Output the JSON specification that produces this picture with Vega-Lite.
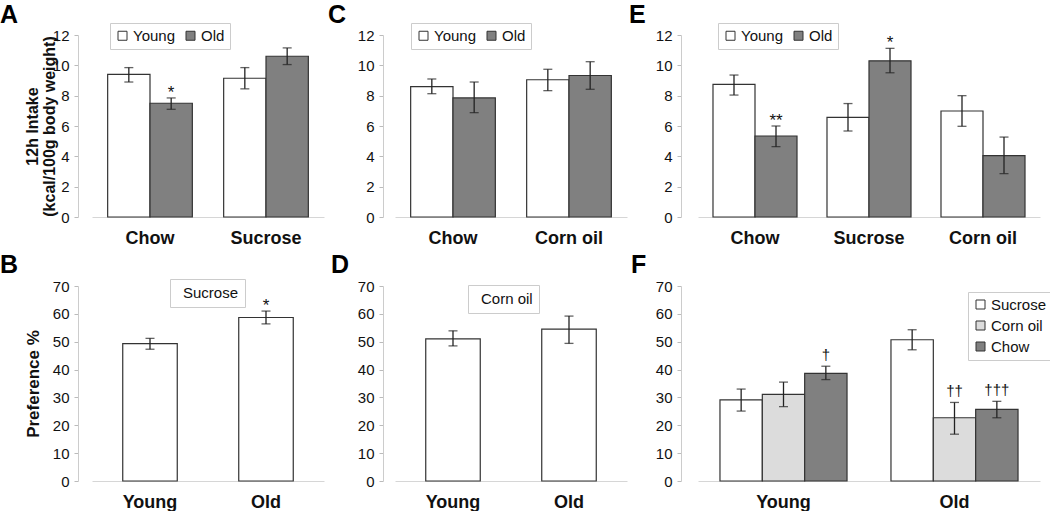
{
  "$schema": "https://vega.github.io/schema/vega-lite/v6.json",
  "background": "white",
  "padding": {"left": 0, "top": 2, "right": 0, "bottom": 0},
  "columns": 3,
  "spacing": {"row": 69, "column": 71},
  "bounds": "flush",
  "align": "each",
  "resolve": {
    "scale": {"x": "independent", "y": "independent", "color": "independent", "xOffset": "independent"},
    "axis": {"x": "independent", "y": "independent"},
    "legend": {"color": "independent"}
  },
  "config": {
    "font": "Liberation Sans, Arial, sans-serif",
    "view": {"stroke": null},
    "axis": {"grid": false},
    "axisX": {"domainColor": "#d6d6d6", "ticks": false, "labelFontSize": 18, "labelFontWeight": "bold", "labelColor": "#111", "labelPadding": 12, "labelAngle": 0},
    "axisY": {"domainColor": "#cccccc", "tickColor": "#bbbbbb", "tickSize": 4, "labelFontSize": 15, "labelColor": "#111", "labelPadding": 5, "labelOverlap": false, "titleFontSize": 16, "titleFontWeight": "bold", "titleColor": "#111", "titleAngle": 270, "titleBaseline": "bottom", "titleAlign": "center", "titleLineHeight": 17},
    "legend": {"labelFontSize": 15, "labelColor": "#111", "symbolType": "square", "symbolSize": 81, "symbolStrokeColor": "#333", "symbolStrokeWidth": 1, "strokeColor": "#cccccc", "fillColor": "#ffffff", "padding": 5, "columnPadding": 8, "rowPadding": 5, "labelOffset": 3},
    "title": {"anchor": "start", "frame": "group", "fontSize": 25, "fontWeight": "bold", "color": "#000", "offset": 0}
  },
  "datasets": {
    "A": [
      {"cat": "Chow", "grp": "Young", "mean": 9.4, "lo": 8.9, "hi": 9.85, "sig": ""},
      {"cat": "Chow", "grp": "Old", "mean": 7.5, "lo": 7.1, "hi": 7.85, "sig": "*"},
      {"cat": "Sucrose", "grp": "Young", "mean": 9.15, "lo": 8.45, "hi": 9.85, "sig": ""},
      {"cat": "Sucrose", "grp": "Old", "mean": 10.6, "lo": 10.05, "hi": 11.15, "sig": ""}
    ],
    "C": [
      {"cat": "Chow", "grp": "Young", "mean": 8.6, "lo": 8.13, "hi": 9.1, "sig": ""},
      {"cat": "Chow", "grp": "Old", "mean": 7.85, "lo": 6.88, "hi": 8.9, "sig": ""},
      {"cat": "Corn oil", "grp": "Young", "mean": 9.05, "lo": 8.33, "hi": 9.74, "sig": ""},
      {"cat": "Corn oil", "grp": "Old", "mean": 9.33, "lo": 8.42, "hi": 10.24, "sig": ""}
    ],
    "E": [
      {"cat": "Chow", "grp": "Young", "mean": 8.75, "lo": 8.04, "hi": 9.36, "sig": ""},
      {"cat": "Chow", "grp": "Old", "mean": 5.34, "lo": 4.64, "hi": 6.0, "sig": "**"},
      {"cat": "Sucrose", "grp": "Young", "mean": 6.57, "lo": 5.67, "hi": 7.48, "sig": ""},
      {"cat": "Sucrose", "grp": "Old", "mean": 10.3, "lo": 9.51, "hi": 11.12, "sig": "*"},
      {"cat": "Corn oil", "grp": "Young", "mean": 6.99, "lo": 5.98, "hi": 8.0, "sig": ""},
      {"cat": "Corn oil", "grp": "Old", "mean": 4.05, "lo": 2.86, "hi": 5.27, "sig": ""}
    ],
    "B": [
      {"cat": "Young", "lg": "Sucrose", "mean": 49.3, "lo": 47.3, "hi": 51.2, "sig": ""},
      {"cat": "Old", "lg": "Sucrose", "mean": 58.7, "lo": 56.4, "hi": 61.0, "sig": "*"}
    ],
    "D": [
      {"cat": "Young", "lg": "Corn oil", "mean": 51.0, "lo": 48.5, "hi": 53.9, "sig": ""},
      {"cat": "Old", "lg": "Corn oil", "mean": 54.5, "lo": 49.4, "hi": 59.2, "sig": ""}
    ],
    "F": [
      {"cat": "Young", "grp": "Sucrose", "mean": 29.1, "lo": 25.1, "hi": 33.0, "sig": ""},
      {"cat": "Young", "grp": "Corn oil", "mean": 31.1, "lo": 26.7, "hi": 35.5, "sig": ""},
      {"cat": "Young", "grp": "Chow", "mean": 38.6, "lo": 36.4, "hi": 41.2, "sig": "†"},
      {"cat": "Old", "grp": "Sucrose", "mean": 50.7, "lo": 47.1, "hi": 54.3, "sig": ""},
      {"cat": "Old", "grp": "Corn oil", "mean": 22.7, "lo": 16.8, "hi": 28.2, "sig": "††"},
      {"cat": "Old", "grp": "Chow", "mean": 25.7, "lo": 22.7, "hi": 28.6, "sig": "†††"}
    ]
  },
  "concat": [
    {
      "width": 232, "height": 182,
      "data": {"name": "A"},
      "title": {"text": "A", "dx": -92, "dy": 9},
      "encoding": {
        "x": {"field": "cat", "type": "nominal", "sort": null, "scale": {"paddingInner": 0.27, "paddingOuter": 0.135}, "axis": {"title": null}},
        "xOffset": {"field": "grp", "type": "nominal", "sort": null, "scale": {"paddingInner": 0, "paddingOuter": 0}}
      },
      "layer": [
        {"mark": {"type": "bar", "stroke": "#333", "strokeWidth": 1.2},
         "encoding": {
           "y": {"field": "mean", "type": "quantitative", "scale": {"domain": [0, 12], "nice": false}, "axis": {"values": [0, 2, 4, 6, 8, 10, 12], "labelOverlap": false, "offset": 14, "title": ["12h Intake", "(kcal/100g body weight)"], "titleX": -38, "titleY": 91}},
           "color": {"field": "grp", "type": "nominal", "scale": {"domain": ["Young", "Old"], "range": ["#ffffff", "#808080"]}, "legend": {"title": null, "orient": "none", "legendX": 18, "legendY": -12, "direction": "horizontal"}}
         }},
        {"mark": {"type": "rule", "color": "#222", "strokeWidth": 1.3}, "encoding": {"y": {"field": "lo", "type": "quantitative", "axis": {"values": [0, 2, 4, 6, 8, 10, 12], "labelOverlap": false, "offset": 14, "title": ["12h Intake", "(kcal/100g body weight)"], "titleX": -38, "titleY": 91}}, "y2": {"field": "hi"}}},
        {"mark": {"type": "tick", "color": "#222", "size": 9, "thickness": 1.3}, "encoding": {"y": {"field": "lo", "type": "quantitative", "axis": {"values": [0, 2, 4, 6, 8, 10, 12], "labelOverlap": false, "offset": 14, "title": ["12h Intake", "(kcal/100g body weight)"], "titleX": -38, "titleY": 91}}}},
        {"mark": {"type": "tick", "color": "#222", "size": 9, "thickness": 1.3}, "encoding": {"y": {"field": "hi", "type": "quantitative", "axis": {"values": [0, 2, 4, 6, 8, 10, 12], "labelOverlap": false, "offset": 14, "title": ["12h Intake", "(kcal/100g body weight)"], "titleX": -38, "titleY": 91}}}},
        {"mark": {"type": "text", "fontSize": 17, "color": "#111", "baseline": "alphabetic"}, "encoding": {"y": {"field": "hi", "type": "quantitative", "axis": {"values": [0, 2, 4, 6, 8, 10, 12], "labelOverlap": false, "offset": 14, "title": ["12h Intake", "(kcal/100g body weight)"], "titleX": -38, "titleY": 91}}, "text": {"field": "sig"}}}
      ]
    },
    {
      "width": 232, "height": 182,
      "data": {"name": "C"},
      "title": {"text": "C", "dx": -67, "dy": 9},
      "encoding": {
        "x": {"field": "cat", "type": "nominal", "sort": null, "scale": {"paddingInner": 0.27, "paddingOuter": 0.135}, "axis": {"title": null}},
        "xOffset": {"field": "grp", "type": "nominal", "sort": null, "scale": {"paddingInner": 0, "paddingOuter": 0}}
      },
      "layer": [
        {"mark": {"type": "bar", "stroke": "#333", "strokeWidth": 1.2},
         "encoding": {
           "y": {"field": "mean", "type": "quantitative", "scale": {"domain": [0, 12], "nice": false}, "axis": {"values": [0, 2, 4, 6, 8, 10, 12], "labelOverlap": false, "offset": 12, "title": null}},
           "color": {"field": "grp", "type": "nominal", "scale": {"domain": ["Young", "Old"], "range": ["#ffffff", "#808080"]}, "legend": {"title": null, "orient": "none", "legendX": 16, "legendY": -12, "direction": "horizontal"}}
         }},
        {"mark": {"type": "rule", "color": "#222", "strokeWidth": 1.3}, "encoding": {"y": {"field": "lo", "type": "quantitative", "axis": {"values": [0, 2, 4, 6, 8, 10, 12], "labelOverlap": false, "offset": 12, "title": null}}, "y2": {"field": "hi"}}},
        {"mark": {"type": "tick", "color": "#222", "size": 9, "thickness": 1.3}, "encoding": {"y": {"field": "lo", "type": "quantitative", "axis": {"values": [0, 2, 4, 6, 8, 10, 12], "labelOverlap": false, "offset": 12, "title": null}}}},
        {"mark": {"type": "tick", "color": "#222", "size": 9, "thickness": 1.3}, "encoding": {"y": {"field": "hi", "type": "quantitative", "axis": {"values": [0, 2, 4, 6, 8, 10, 12], "labelOverlap": false, "offset": 12, "title": null}}}}
      ]
    },
    {
      "width": 342, "height": 182,
      "data": {"name": "E"},
      "title": {"text": "E", "dx": -69, "dy": 9},
      "encoding": {
        "x": {"field": "cat", "type": "nominal", "sort": null, "scale": {"paddingInner": 0.263, "paddingOuter": 0.1315}, "axis": {"title": null}},
        "xOffset": {"field": "grp", "type": "nominal", "sort": null, "scale": {"paddingInner": 0, "paddingOuter": 0}}
      },
      "layer": [
        {"mark": {"type": "bar", "stroke": "#333", "strokeWidth": 1.2},
         "encoding": {
           "y": {"field": "mean", "type": "quantitative", "scale": {"domain": [0, 12], "nice": false}, "axis": {"values": [0, 2, 4, 6, 8, 10, 12], "labelOverlap": false, "offset": 17, "title": null}},
           "color": {"field": "grp", "type": "nominal", "scale": {"domain": ["Young", "Old"], "range": ["#ffffff", "#808080"]}, "legend": {"title": null, "orient": "none", "legendX": 20, "legendY": -12, "direction": "horizontal"}}
         }},
        {"mark": {"type": "rule", "color": "#222", "strokeWidth": 1.3}, "encoding": {"y": {"field": "lo", "type": "quantitative", "axis": {"values": [0, 2, 4, 6, 8, 10, 12], "labelOverlap": false, "offset": 17, "title": null}}, "y2": {"field": "hi"}}},
        {"mark": {"type": "tick", "color": "#222", "size": 9, "thickness": 1.3}, "encoding": {"y": {"field": "lo", "type": "quantitative", "axis": {"values": [0, 2, 4, 6, 8, 10, 12], "labelOverlap": false, "offset": 17, "title": null}}}},
        {"mark": {"type": "tick", "color": "#222", "size": 9, "thickness": 1.3}, "encoding": {"y": {"field": "hi", "type": "quantitative", "axis": {"values": [0, 2, 4, 6, 8, 10, 12], "labelOverlap": false, "offset": 17, "title": null}}}},
        {"mark": {"type": "text", "fontSize": 17, "color": "#111", "baseline": "alphabetic"}, "encoding": {"y": {"field": "hi", "type": "quantitative", "axis": {"values": [0, 2, 4, 6, 8, 10, 12], "labelOverlap": false, "offset": 17, "title": null}}, "text": {"field": "sig"}}}
      ]
    },
    {
      "width": 232, "height": 195,
      "data": {"name": "B"},
      "title": {"text": "B", "dx": -92, "dy": 3},
      "encoding": {
        "x": {"field": "cat", "type": "nominal", "sort": null, "scale": {"paddingInner": 0.53, "paddingOuter": 0.265}, "axis": {"title": null}}
      },
      "layer": [
        {"mark": {"type": "bar", "stroke": "#333", "strokeWidth": 1.2},
         "encoding": {
           "y": {"field": "mean", "type": "quantitative", "scale": {"domain": [0, 70], "nice": false}, "axis": {"values": [0, 10, 20, 30, 40, 50, 60, 70], "labelOverlap": false, "offset": 14, "title": "Preference %", "titleFontSize": 17, "titleX": -36, "titleY": 97.5}},
           "color": {"field": "lg", "type": "nominal", "scale": {"domain": ["Sucrose"], "range": ["#ffffff"]}, "legend": {"title": null, "orient": "none", "legendX": 78, "legendY": -7, "symbolSize": 0, "symbolOpacity": 0, "symbolStrokeWidth": 0, "labelOffset": -8, "padding": 6}}
         }},
        {"mark": {"type": "rule", "color": "#222", "strokeWidth": 1.3}, "encoding": {"y": {"field": "lo", "type": "quantitative", "axis": {"values": [0, 10, 20, 30, 40, 50, 60, 70], "labelOverlap": false, "offset": 14, "title": "Preference %", "titleFontSize": 17, "titleX": -36, "titleY": 97.5}}, "y2": {"field": "hi"}}},
        {"mark": {"type": "tick", "color": "#222", "size": 9, "thickness": 1.3}, "encoding": {"y": {"field": "lo", "type": "quantitative", "axis": {"values": [0, 10, 20, 30, 40, 50, 60, 70], "labelOverlap": false, "offset": 14, "title": "Preference %", "titleFontSize": 17, "titleX": -36, "titleY": 97.5}}}},
        {"mark": {"type": "tick", "color": "#222", "size": 9, "thickness": 1.3}, "encoding": {"y": {"field": "hi", "type": "quantitative", "axis": {"values": [0, 10, 20, 30, 40, 50, 60, 70], "labelOverlap": false, "offset": 14, "title": "Preference %", "titleFontSize": 17, "titleX": -36, "titleY": 97.5}}}},
        {"mark": {"type": "text", "fontSize": 17, "color": "#111", "baseline": "alphabetic"}, "encoding": {"y": {"field": "hi", "type": "quantitative", "axis": {"values": [0, 10, 20, 30, 40, 50, 60, 70], "labelOverlap": false, "offset": 14, "title": "Preference %", "titleFontSize": 17, "titleX": -36, "titleY": 97.5}}, "text": {"field": "sig"}}}
      ]
    },
    {
      "width": 232, "height": 195,
      "data": {"name": "D"},
      "title": {"text": "D", "dx": -64, "dy": 3},
      "encoding": {
        "x": {"field": "cat", "type": "nominal", "sort": null, "scale": {"paddingInner": 0.53, "paddingOuter": 0.265}, "axis": {"title": null}}
      },
      "layer": [
        {"mark": {"type": "bar", "stroke": "#333", "strokeWidth": 1.2},
         "encoding": {
           "y": {"field": "mean", "type": "quantitative", "scale": {"domain": [0, 70], "nice": false}, "axis": {"values": [0, 10, 20, 30, 40, 50, 60, 70], "labelOverlap": false, "offset": 12, "title": null}},
           "color": {"field": "lg", "type": "nominal", "scale": {"domain": ["Corn oil"], "range": ["#ffffff"]}, "legend": {"title": null, "orient": "none", "legendX": 73, "legendY": -1, "symbolSize": 0, "symbolOpacity": 0, "symbolStrokeWidth": 0, "labelOffset": -8, "padding": 6}}
         }},
        {"mark": {"type": "rule", "color": "#222", "strokeWidth": 1.3}, "encoding": {"y": {"field": "lo", "type": "quantitative", "axis": {"values": [0, 10, 20, 30, 40, 50, 60, 70], "labelOverlap": false, "offset": 12, "title": null}}, "y2": {"field": "hi"}}},
        {"mark": {"type": "tick", "color": "#222", "size": 9, "thickness": 1.3}, "encoding": {"y": {"field": "lo", "type": "quantitative", "axis": {"values": [0, 10, 20, 30, 40, 50, 60, 70], "labelOverlap": false, "offset": 12, "title": null}}}},
        {"mark": {"type": "tick", "color": "#222", "size": 9, "thickness": 1.3}, "encoding": {"y": {"field": "hi", "type": "quantitative", "axis": {"values": [0, 10, 20, 30, 40, 50, 60, 70], "labelOverlap": false, "offset": 12, "title": null}}}}
      ]
    },
    {
      "width": 342, "height": 195,
      "data": {"name": "F"},
      "title": {"text": "F", "dx": -67, "dy": 3},
      "encoding": {
        "x": {"field": "cat", "type": "nominal", "sort": null, "scale": {"paddingInner": 0.257, "paddingOuter": 0.1285}, "axis": {"title": null}},
        "xOffset": {"field": "grp", "type": "nominal", "sort": null, "scale": {"paddingInner": 0, "paddingOuter": 0}}
      },
      "layer": [
        {"mark": {"type": "bar", "stroke": "#333", "strokeWidth": 1.2},
         "encoding": {
           "y": {"field": "mean", "type": "quantitative", "scale": {"domain": [0, 70], "nice": false}, "axis": {"values": [0, 10, 20, 30, 40, 50, 60, 70], "labelOverlap": false, "offset": 17, "title": null}},
           "color": {"field": "grp", "type": "nominal", "scale": {"domain": ["Sucrose", "Corn oil", "Chow"], "range": ["#ffffff", "#dcdcdc", "#808080"]}, "legend": {"title": null, "orient": "none", "legendX": 270, "legendY": 6, "direction": "vertical"}}
         }},
        {"mark": {"type": "rule", "color": "#222", "strokeWidth": 1.3}, "encoding": {"y": {"field": "lo", "type": "quantitative", "axis": {"values": [0, 10, 20, 30, 40, 50, 60, 70], "labelOverlap": false, "offset": 17, "title": null}}, "y2": {"field": "hi"}}},
        {"mark": {"type": "tick", "color": "#222", "size": 9, "thickness": 1.3}, "encoding": {"y": {"field": "lo", "type": "quantitative", "axis": {"values": [0, 10, 20, 30, 40, 50, 60, 70], "labelOverlap": false, "offset": 17, "title": null}}}},
        {"mark": {"type": "tick", "color": "#222", "size": 9, "thickness": 1.3}, "encoding": {"y": {"field": "hi", "type": "quantitative", "axis": {"values": [0, 10, 20, 30, 40, 50, 60, 70], "labelOverlap": false, "offset": 17, "title": null}}}},
        {"mark": {"type": "text", "fontSize": 15, "color": "#111", "baseline": "alphabetic", "dy": -6}, "encoding": {"y": {"field": "hi", "type": "quantitative", "axis": {"values": [0, 10, 20, 30, 40, 50, 60, 70], "labelOverlap": false, "offset": 17, "title": null}}, "text": {"field": "sig"}}}
      ]
    }
  ]
}
